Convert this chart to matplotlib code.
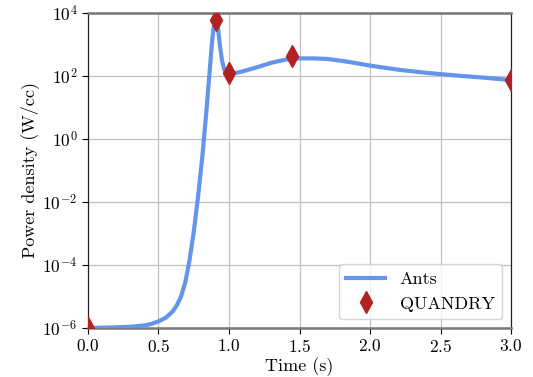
import numpy as np
import matplotlib
matplotlib.use("Agg")
import matplotlib.pyplot as plt

plt.rcParams["font.family"] = "serif"
plt.rcParams["font.serif"] = ["cmr10", "DejaVu Serif"]
plt.rcParams["mathtext.fontset"] = "cm"
plt.rcParams["axes.formatter.use_mathtext"] = True

# Ants simulation (log10 of W/cc)
ants_t = [0.0, 0.1, 0.2, 0.3, 0.4, 0.45, 0.5, 0.55, 0.6, 0.63, 0.66, 0.69,
          0.72, 0.75, 0.78, 0.81, 0.84, 0.86, 0.88, 0.895, 0.91, 0.92, 0.935,
          0.95, 0.965, 0.98, 1.0, 1.05, 1.1, 1.2, 1.3, 1.4, 1.5, 1.6, 1.7,
          1.8, 1.9, 2.0, 2.2, 2.4, 2.6, 2.8, 3.0]
ants_log = [-6.0, -5.99, -5.98, -5.96, -5.92, -5.87, -5.79, -5.68, -5.48,
            -5.28, -5.0, -4.55, -3.85, -2.95, -1.85, -0.6, 0.9, 2.0, 3.1, 3.7,
            3.8, 3.6, 3.0, 2.5, 2.22, 2.1, 2.07, 2.1, 2.15, 2.28, 2.42, 2.52,
            2.56, 2.56, 2.54, 2.48, 2.41, 2.33, 2.2, 2.1, 2.02, 1.95, 1.87]
ants_p = [10 ** v for v in ants_log]

# QUANDRY reference points
quandry_t = [0.0, 0.91, 1.0, 1.45, 3.0]
quandry_p = [1e-6, 6000, 125, 430, 75]

fig = plt.figure(figsize=(5.33, 3.77), dpi=100)
ax = fig.add_axes([0.165, 0.13, 0.794, 0.8355])

ax.plot(ants_t, ants_p, color="#6495ED", lw=3, label="Ants", zorder=3)
ax.plot(quandry_t, quandry_p, "d", color="#B22222", markersize=11,
        label="QUANDRY", zorder=4)

ax.set_yscale("log")
ax.set_xlim(0, 3)
ax.set_ylim(1e-6, 1e4)
ax.set_yticks([1e-6, 1e-4, 1e-2, 1e0, 1e2, 1e4])
ax.minorticks_off()
ax.grid(True, color="#c0c0c0", lw=0.9)
ax.set_axisbelow(True)

for s in ["top", "bottom"]:
    ax.spines[s].set_color("#777777")
    ax.spines[s].set_linewidth(1.8)
for s in ["left", "right"]:
    ax.spines[s].set_color("#222222")
    ax.spines[s].set_linewidth(0.9)

ax.tick_params(labelsize=12.5, length=4)
ax.set_xlabel("Time (s)", fontsize=13, labelpad=1)
ax.set_ylabel("Power density (W/cc)", fontsize=13, labelpad=2)

ax.legend(loc="lower right", fontsize=13, handlelength=2.2)

fig.savefig("out.png", dpi=100)
